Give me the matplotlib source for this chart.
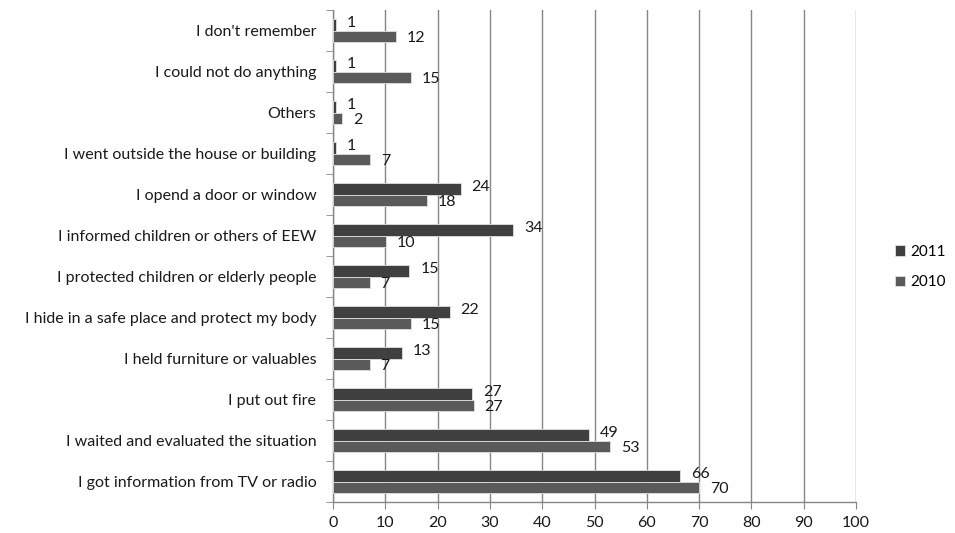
import matplotlib.pyplot as plt
import numpy as np

# categories listed bottom to top
categories = [
    "I got information from TV or radio",
    "I waited and evaluated the situation",
    "I put out fire",
    "I held furniture or valuables",
    "I hide in a safe place and protect my body",
    "I protected children or elderly people",
    "I informed children or others of EEW",
    "I opend a door or window",
    "I went outside the house or building",
    "Others",
    "I could not do anything",
    "I don't remember",
]
vals_2011 = [66.3, 48.9, 26.6, 13.2, 22.3, 14.6, 34.4, 24.4, 0.6, 0.6, 0.6, 0.6]
vals_2010 = [70, 53, 26.9, 7, 14.9, 7, 10.1, 18, 7.1, 1.8, 14.9, 12]
series = ["2011", "2010"]
xticks = list(range(0, 101, 10))

plt.rcParams['font.family'] = ['Lato', 'DejaVu Sans']

fig = plt.figure(figsize=(9.55, 5.33), dpi=100)
ax = fig.add_axes([333/955, 1-502/533, (856-333)/955, 492/533])

y = np.arange(len(categories))
h = 0.27
c11, c10 = '#404040', '#5a5a5a'
b1 = ax.barh(y + h/2, vals_2011, height=h, color=c11, edgecolor='#e0e0e0', linewidth=0.6, label=series[0], zorder=3)
b2 = ax.barh(y - h/2, vals_2010, height=h, color=c10, edgecolor='#e0e0e0', linewidth=0.6, label=series[1], zorder=3)

for bars, vals, dy in ((b1, vals_2011, 2), (b2, vals_2010, -2)):
    for bar, v in zip(bars, vals):
        ax.annotate(f"{v:.0f}", (v, bar.get_y() + bar.get_height()/2),
                    xytext=(11, dy), textcoords='offset pixels',
                    va='center', ha='left', fontsize=11.5, color='#1a1a1a', zorder=4)

ax.set_xlim(0, 100)
ax.set_ylim(-0.5, len(categories) - 0.5)
ax.set_xticks(xticks)
ax.set_xticklabels([str(t) for t in xticks], fontsize=11.5, color='#1a1a1a')
ax.set_yticks(y)
ax.set_yticklabels(categories, fontsize=11.5, color='#1a1a1a')
ax.tick_params(axis='y', length=0, pad=12)
ax.set_yticks(np.arange(-0.5, len(categories)), minor=True)
ax.tick_params(axis='y', which='minor', length=5, color='#868686')
ax.tick_params(axis='x', length=5, color='#868686', direction='out', pad=5)
ax.grid(axis='x', color='#868686', linewidth=1, zorder=0)
for s in ('top', 'right'):
    ax.spines[s].set_visible(False)
for s in ('left', 'bottom'):
    ax.spines[s].set_color('#868686')
    ax.spines[s].set_linewidth(1)

handles = [b1, b2]
fig.legend(handles, series, loc='center left', bbox_to_anchor=(884/955, 1-267/533),
           frameon=False, fontsize=11, handlelength=0.7, handleheight=0.7,
           handletextpad=0.3, labelspacing=1.1, borderpad=0.2)

fig.savefig('out.png', dpi=100)
